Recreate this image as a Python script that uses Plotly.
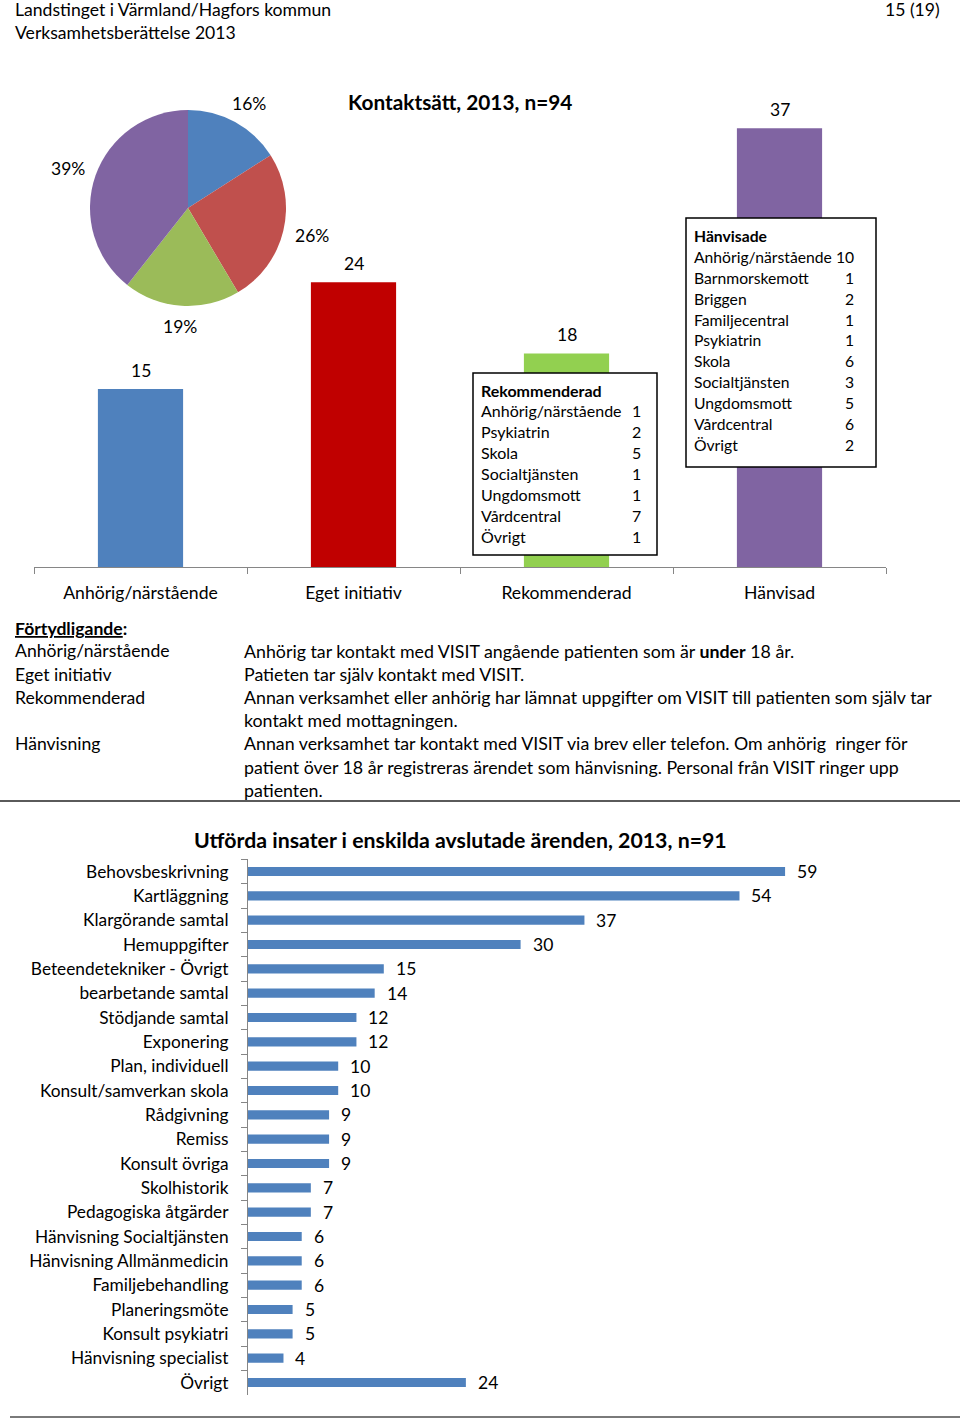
import math
import plotly.graph_objects as go

W, H = 960, 1420
FONT = "Lato"

# ---------------- data ----------------
contact_cats = ["Anhörig/närstående", "Eget initiativ", "Rekommenderad", "Hänvisad"]
contact_vals = [15, 24, 18, 37]
bar_colors = ["#4F81BD", "#C00000", "#92D050", "#8064A2"]
pie_colors = ["#4F81BD", "#C0504D", "#9BBB59", "#8064A2"]

rek_title = "Rekommenderad"
rek_names = ["Anhörig/närstående", "Psykiatrin", "Skola", "Socialtjänsten", "Ungdomsmott", "Vårdcentral", "Övrigt"]
rek_vals = [1, 2, 5, 1, 1, 7, 1]

hanv_title = "Hänvisade"
hanv_names = ["Anhörig/närstående", "Barnmorskemott", "Briggen", "Familjecentral", "Psykiatrin",
              "Skola", "Socialtjänsten", "Ungdomsmott", "Vårdcentral", "Övrigt"]
hanv_vals = [10, 1, 2, 1, 1, 6, 3, 5, 6, 2]

def_terms = ["Anhörig/närstående", "Eget initiativ", "Rekommenderad", "", "Hänvisning", "", ""]
def_texts = [
    "Anhörig tar kontakt med VISIT angående patienten som är <b>under</b> 18 år.",
    "Patieten tar själv kontakt med VISIT.",
    "Annan verksamhet eller anhörig har lämnat uppgifter om VISIT till patienten som själv tar",
    "kontakt med mottagningen.",
    "Annan verksamhet tar kontakt med VISIT via brev eller telefon. Om anhörig  ringer för",
    "patient över 18 år registreras ärendet som hänvisning. Personal från VISIT ringer upp",
    "patienten.",
]

insats_cats = ["Behovsbeskrivning", "Kartläggning", "Klargörande samtal", "Hemuppgifter",
               "Beteendetekniker - Övrigt", "bearbetande samtal", "Stödjande samtal", "Exponering",
               "Plan, individuell", "Konsult/samverkan skola", "Rådgivning", "Remiss", "Konsult övriga",
               "Skolhistorik", "Pedagogiska åtgärder", "Hänvisning Socialtjänsten",
               "Hänvisning Allmänmedicin", "Familjebehandling", "Planeringsmöte", "Konsult psykiatri",
               "Hänvisning specialist", "Övrigt"]
insats_vals = [59, 54, 37, 30, 15, 14, 12, 12, 10, 10, 9, 9, 9, 7, 7, 6, 6, 6, 5, 5, 4, 24]

# ---------------- helpers ----------------
def X(px):
    return px / W

def Y(py):
    return 1 - py / H

fig = go.Figure()
ann = []
shapes = []

def text(px, py, s, size=17, anchor="left", bold=False, color="#000000"):
    if bold:
        s = "<b>" + s + "</b>"
    ann.append(dict(x=X(px), y=Y(py), xref="paper", yref="paper", text=s, showarrow=False,
                    xanchor=anchor, yanchor="middle", font=dict(family=FONT, size=size, color=color)))

# header
text(13, 10, "Landstinget i Värmland/Hagfors kommun", 17.6)
text(13, 33, "Verksamhetsberättelse 2013", 17.6)
text(942, 10, "15 (19)", 17.6, anchor="right")

# ---------------- top bar chart ----------------
fig.add_trace(go.Bar(x=contact_cats, y=contact_vals, marker=dict(color=bar_colors, line=dict(width=0)),
                     width=0.4, xaxis="x", yaxis="y", hoverinfo="skip"))
for c, v in zip(contact_cats, contact_vals):
    ann.append(dict(x=c, y=v, xref="x", yref="y", text=str(v), showarrow=False, yshift=19,
                    xanchor="center", yanchor="middle", font=dict(family=FONT, size=17.5, color="#000")))

text(460, 101, "Kontaktsätt, 2013, n=94", 20.8, anchor="center", bold=True)

# pie
pcx, pcy, pr = 188, 208, 98
fig.add_trace(go.Pie(values=contact_vals, labels=contact_cats, sort=False, direction="clockwise",
                     rotation=0, marker=dict(colors=pie_colors, line=dict(width=0)), textinfo="none",
                     showlegend=False, hoverinfo="skip",
                     domain=dict(x=[X(pcx - pr), X(pcx + pr)], y=[Y(pcy + pr), Y(pcy - pr)])))
tot = sum(contact_vals)
cum = 0
for v in contact_vals:
    mid = (cum + v / 2) / tot * 2 * math.pi
    cum += v
    s, c = math.sin(mid), math.cos(mid)
    lx = pcx + (pr + 12) * s + 17 * s
    ly = pcy - (pr + 12) * c - 9 * c
    text(lx, ly, f"{round(100 * v / tot)}%", 17.5, anchor="center")

# boxes
def box(x0, y0, x1, y1, title, names, vals, row0, step, numx, size):
    shapes.append(dict(type="rect", xref="paper", yref="paper", x0=X(x0), x1=X(x1), y0=Y(y1), y1=Y(y0),
                       line=dict(color="#000000", width=1.5), fillcolor="#FFFFFF", layer="above"))
    text(x0 + 6, row0, title, size, bold=True)
    for i, (n, v) in enumerate(zip(names, vals)):
        yy = row0 + step * (i + 1)
        text(x0 + 6, yy, n, size)
        text(numx, yy, str(v), size, anchor="right")

box(473, 373, 657, 555, rek_title, rek_names, rek_vals, 390, 20.9, 643, 16)
box(686, 218, 876, 467, hanv_title, hanv_names, hanv_vals, 236, 20.9, 856, 15.7)

# ---------------- definitions ----------------
ann.append(dict(x=X(13), y=Y(628), xref="paper", yref="paper", text="<b><u>Förtydligande</u>:</b>",
                showarrow=False, xanchor="left", yanchor="middle", font=dict(family=FONT, size=17.6, color="#000")))
def_rows = [651, 674, 697, 720, 743, 767, 790]
for term, txt, yy in zip(def_terms, def_texts, def_rows):
    if term:
        text(13, yy, term, 17.6)
    text(242, yy, txt, 17.8)

shapes.append(dict(type="line", xref="paper", yref="paper", x0=0, x1=1, y0=Y(801), y1=Y(801),
                   line=dict(color="#5a5a5a", width=2)))
shapes.append(dict(type="line", xref="paper", yref="paper", x0=X(10), x1=1, y0=Y(1417), y1=Y(1417),
                   line=dict(color="#7a7a7a", width=2)))

# ---------------- bottom bar chart ----------------
text(460, 840, "Utförda insater i enskilda avslutade ärenden, 2013, n=91", 21.3, anchor="center", bold=True)
fig.add_trace(go.Bar(y=insats_cats, x=insats_vals, orientation="h", marker=dict(color="#4F81BD", line=dict(width=0)),
                     width=0.38, xaxis="x2", yaxis="y2", hoverinfo="skip"))
for c, v in zip(insats_cats, insats_vals):
    ann.append(dict(x=v, y=c, xref="x2", yref="y2", text=str(v), showarrow=False, xshift=10,
                    xanchor="left", yanchor="middle", font=dict(family=FONT, size=17.5, color="#000")))

fig.update_layout(
    width=W, height=H, margin=dict(l=0, r=0, t=0, b=0),
    paper_bgcolor="#FFFFFF", plot_bgcolor="rgba(0,0,0,0)", showlegend=False,
    font=dict(family=FONT, size=17, color="#000"),
    xaxis=dict(domain=[X(34), X(886)], anchor="y", range=[-0.5, 3.5], showline=True, linecolor="#868686",
               linewidth=1, ticks="outside", tickson="boundaries", ticklen=6, tickcolor="#868686",
               showgrid=False, zeroline=False, tickfont=dict(family=FONT, size=17.6, color="#000"),
               ticklabelstandoff=10, fixedrange=True),
    yaxis=dict(domain=[Y(567), Y(567 - 40 * 11.86)], anchor="x", range=[0, 40], visible=False,
               fixedrange=True),
    xaxis2=dict(domain=[X(247), X(247 + 65 * 9.12)], anchor="y2", range=[0, 65], visible=False,
                fixedrange=True),
    yaxis2=dict(domain=[Y(1395), Y(859)], anchor="free", position=X(247), autorange="reversed",
                showline=True, linecolor="#868686", linewidth=1, ticks="outside", tickson="boundaries",
                ticklen=6, tickcolor="#868686", showgrid=False, zeroline=False,
                tickfont=dict(family=FONT, size=17.3, color="#000"), ticklabelstandoff=15, fixedrange=True),
    bargap=0.6,
    annotations=ann,
    shapes=shapes,
)

fig.write_html("out.html", config={"displayModeBar": False},
               post_script="document.body.style.margin='0';document.body.style.overflow='hidden';")
